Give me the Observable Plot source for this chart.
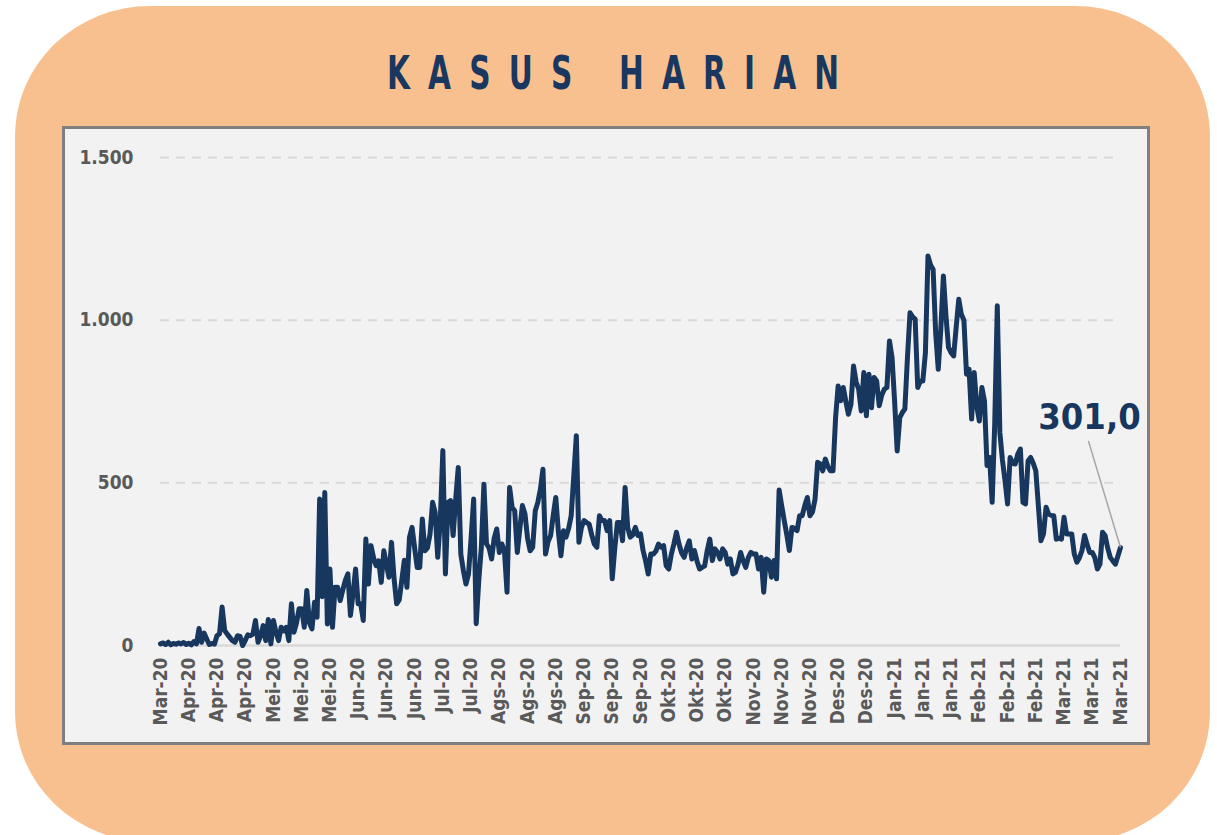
<!DOCTYPE html>
<html><head><meta charset="utf-8">
<script src="https://cdn.jsdelivr.net/npm/d3@7"></script>
<script src="https://cdn.jsdelivr.net/npm/@observablehq/plot@0.6"></script>
<style>
html,body{margin:0;padding:0;background:#fff;}
body{width:1217px;height:835px;position:relative;overflow:hidden;font-family:"DejaVu Sans Condensed","Liberation Sans Narrow","DejaVu Sans",sans-serif;}
#bg{position:absolute;left:15px;top:6px;width:1195px;height:836px;background:#F9C08F;border-radius:135px/130px;}
#title{position:absolute;left:4px;top:50px;width:1217px;text-align:center;line-height:46px;white-space:nowrap;}
#title span{display:inline-block;font-size:47px;font-weight:bold;color:#1A375F;letter-spacing:26px;padding-left:26px;transform:scaleX(0.70);}
#panel{position:absolute;left:62px;top:126px;width:1088px;height:619px;box-sizing:border-box;background:#F2F2F2;border:3px solid #7F7F7F;}
#chart{position:absolute;left:62px;top:126px;}
#chart svg{overflow:visible;}
</style></head>
<body>
<div id="bg"></div>
<div id="title"><span>KASUS HARIAN</span></div>
<div id="panel"></div>
<div id="chart"></div>
<script>
// Daily cases, one value per day from 22 Mar 2020 (index 0) to 31 Mar 2021 (index 374)
const cases = [
5, 8, 3, 10, 2, 6, 4, 8, 5, 9,
3, 7, 2, 12, 5, 52, 10, 38, 20, 3,
6, 4, 30, 36, 118, 46, 35, 25, 15, 10,
30, 28, 0, 15, 33, 30, 35, 77, 10, 30,
61, 15, 80, 5, 77, 40, 15, 56, 45, 56,
15, 128, 41, 70, 113, 113, 56, 169, 70, 51,
133, 87, 450, 150, 470, 66, 235, 56, 179, 179,
138, 170, 200, 220, 92, 160, 235, 128, 128, 77,
327, 189, 307, 270, 245, 260, 194, 291, 250, 210,
317, 205, 128, 140, 200, 262, 179, 332, 363, 300,
240, 240, 389, 291, 300, 342, 440, 409, 271, 384,
599, 220, 440, 445, 338, 450, 547, 281, 230, 189,
220, 330, 450, 67, 200, 302, 496, 312, 300, 266,
330, 358, 286, 312, 290, 164, 486, 424, 414, 286,
360, 430, 404, 330, 291, 302, 414, 440, 480, 542,
281, 320, 338, 400, 455, 350, 276, 353, 333, 360,
399, 520, 645, 317, 363, 384, 378, 373, 340, 312,
302, 399, 384, 384, 353, 384, 205, 300, 378, 378,
322, 486, 363, 333, 340, 363, 338, 343, 292, 260,
220, 281, 281, 290, 312, 302, 307, 245, 235, 280,
312, 348, 312, 285, 271, 300, 322, 266, 292, 260,
235, 240, 245, 292, 327, 261, 297, 286, 266, 297,
286, 250, 266, 220, 225, 250, 286, 260, 240, 270,
286, 281, 281, 235, 271, 164, 266, 261, 210, 261,
205, 478, 430, 384, 340, 292, 363, 360, 353, 399,
399, 430, 455, 399, 410, 450, 563, 558, 537, 573,
550, 537, 537, 700, 798, 752, 793, 750, 711, 742,
859, 810, 788, 721, 839, 706, 834, 731, 824, 813,
737, 770, 788, 793, 936, 885, 750, 598, 700, 716,
727, 885, 1023, 1010, 1003, 793, 813, 813, 900, 1197,
1170, 1156, 960, 849, 972, 1136, 1013, 916, 900, 890,
980, 1064, 1018, 1000, 834, 849, 696, 839, 737, 690,
793, 752, 553, 578, 440, 681, 1044, 655, 570, 507,
435, 578, 560, 558, 589, 604, 440, 435, 568, 578,
560, 537, 430, 322, 343, 425, 404, 400, 399, 327,
330, 327, 394, 343, 343, 343, 281, 256, 270, 292,
338, 310, 286, 286, 270, 235, 250, 348, 338, 300,
271, 260, 250, 275, 301
];

// X tick labels, one every 11 days starting at index 0
const xLabels = ["Mar-20","Apr-20","Apr-20","Apr-20","Mei-20","Mei-20","Mei-20",
  "Jun-20","Jun-20","Jun-20","Jul-20","Jul-20","Ags-20","Ags-20","Ags-20",
  "Sep-20","Sep-20","Sep-20","Okt-20","Okt-20","Okt-20","Nov-20","Nov-20","Nov-20",
  "Des-20","Des-20","Jan-21","Jan-21","Jan-21","Feb-21","Feb-21","Feb-21",
  "Mar-21","Mar-21","Mar-21"];
const tickStep = 11;
const yTicks = [0, 500, 1000, 1500];

const idLocale = d3.formatLocale({decimal: ",", thousands: ".", grouping: [3], currency: ["Rp", ""]});
const fmtInt = idLocale.format(",");
const fmtDec = idLocale.format(",.1f");

const series = cases.map((v, i) => ({i, v}));
const last = series[series.length - 1];
const xTicks = xLabels.map((_, k) => k * tickStep);

const navy = "#17375E";
const font = '"DejaVu Sans Condensed","Liberation Sans Narrow","DejaVu Sans",sans-serif';

const chart = Plot.plot({
  width: 1088,
  height: 619,
  marginLeft: 98,
  marginRight: 30,
  marginTop: 31,
  marginBottom: 100,
  style: {background: "transparent", fontFamily: font, fontWeight: "bold", fontSize: "19px", color: "#595959"},
  x: {type: "linear", domain: [0, cases.length - 1], label: null},
  y: {domain: [0, 1500], label: null},
  marks: [
    Plot.gridY(yTicks.filter(d => d > 0), {stroke: "#D9D9D9", strokeOpacity: 1, strokeWidth: 2, strokeDasharray: "9,7"}),
    Plot.ruleY([0], {stroke: "#D9D9D9", strokeWidth: 2.5}),
    Plot.axisY({ticks: yTicks, tickFormat: fmtInt, tickSize: 0, tickPadding: 27, fontSize: 19, label: null}),
    Plot.axisX({ticks: xTicks, tickFormat: d => xLabels[Math.round(d / tickStep)], tickRotate: -90,
      tickSize: 0, tickPadding: 12, textAnchor: "end", lineAnchor: "middle", fontSize: 19, label: null}),
    Plot.lineY(series, {x: "i", y: "v", stroke: navy, strokeWidth: 5, strokeLinejoin: "round", strokeLinecap: "round"}),
    Plot.link([last], {x1: "i", y1: "v", x2: d => d.i - 12.5, y2: d => d.v + 328, stroke: "#A6A6A6", strokeWidth: 1.5}),
    Plot.text([last], {x: "i", y: "v", text: d => fmtDec(d.v), dx: -31, dy: -119, lineAnchor: "bottom",
      fill: navy, fontSize: 36, fontWeight: "bold"})
  ]
});
document.getElementById("chart").appendChild(chart);
</script>
</body></html>
